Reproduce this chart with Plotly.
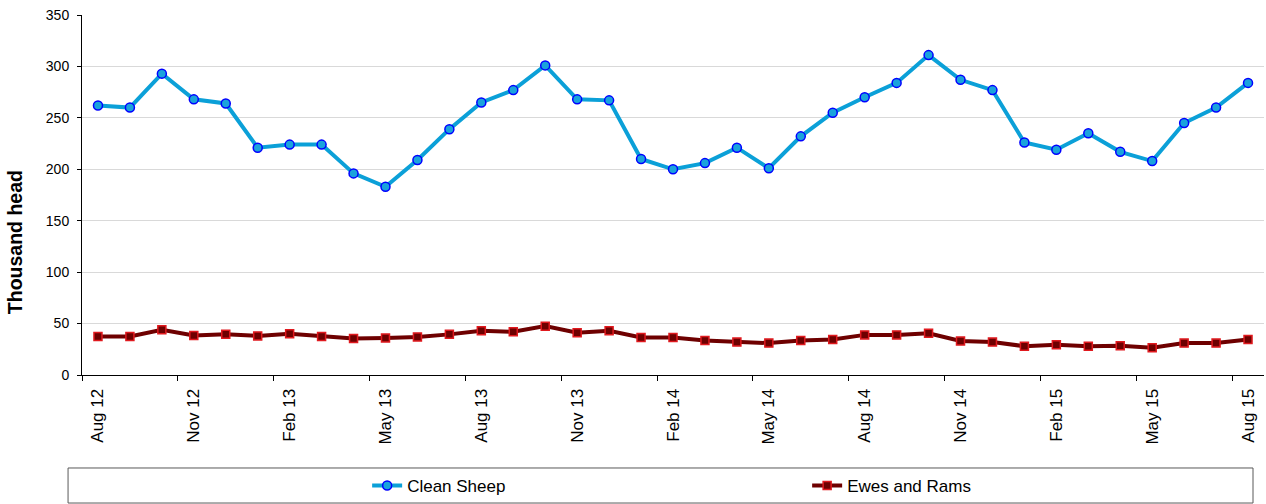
import plotly.graph_objects as go

months = ["Aug", "Sep", "Oct", "Nov", "Dec", "Jan", "Feb", "Mar", "Apr", "May", "Jun", "Jul"]

# monthly categories Aug 12 .. Aug 15
periods = []
for i in range(37):
    m = months[i % 12]
    y = 12 + (i + 7) // 12
    periods.append(f"{m} {y}")

clean_sheep = [262, 260, 293, 268, 264, 221, 224, 224, 196, 183, 209, 239,
               265, 277, 301, 268, 267, 210, 200, 206, 221, 201, 232, 255,
               270, 284, 311, 287, 277, 226, 219, 235, 217, 208, 245, 260,
               284]
ewes_rams = [37.5, 37.5, 44, 38.5, 39.5, 38, 40, 37.5, 35.5, 36, 37, 39.5,
             43, 42, 47.5, 41, 43, 36.5, 36.5, 33.5, 32, 31, 33.5, 34.5,
             39, 39, 40.5, 33, 32, 28, 29.5, 28, 28.5, 26.5, 31, 31,
             34.5]

font_family = "Arial, Liberation Sans, sans-serif"

fig = go.Figure()

fig.add_trace(go.Scatter(
    x=periods, y=clean_sheep,
    mode="lines+markers",
    name="Clean Sheep",
    line=dict(color="#0BA0D8", width=4),
    marker=dict(symbol="circle", size=9, color="#1AA3DC",
                line=dict(color="#0000FF", width=1.5)),
))

fig.add_trace(go.Scatter(
    x=periods, y=ewes_rams,
    mode="lines+markers",
    name="Ewes and Rams",
    line=dict(color="#6E0000", width=4),
    marker=dict(symbol="square", size=8, color="#6E0000",
                line=dict(color="#E0191E", width=1.5)),
))

# legend frame
fig.add_shape(
    type="rect", xref="paper", yref="paper",
    x0=-0.0118, x1=0.9907, y0=-0.3556, y1=-0.2583,
    line=dict(color="#595959", width=1), fillcolor="rgba(0,0,0,0)",
)

# y title sits below the middle of the axis in the original, so place it by hand
fig.add_annotation(
    text="<b>Thousand head</b>", textangle=-90,
    xref="paper", yref="paper", x=-0.0567, y=0.369,
    xanchor="center", yanchor="middle", showarrow=False,
    font=dict(size=19.5, color="#000000"),
)

fig.update_xaxes(
    type="category",
    tickmode="linear", tick0=0, dtick=3,
    tickson="boundaries",
    tickangle=-90,
    ticks="outside", ticklen=5, tickcolor="#000000",
    ticklabelstandoff=6,
    showline=True, linecolor="#000000", linewidth=1,
    showgrid=False,
    automargin=False,
    tickfont=dict(size=17, color="#000000"),
    range=[-0.5, 36.5],
)

fig.update_yaxes(
    range=[0, 350], dtick=50,
    ticks="outside", ticklen=4, tickcolor="#000000",
    ticklabelstandoff=5,
    showline=True, linecolor="#000000", linewidth=1,
    showgrid=True, gridcolor="#D9D9D9", gridwidth=1,
    zeroline=False,
    automargin=False,
    tickfont=dict(size=14, color="#000000"),
)

fig.update_layout(
    width=1266, height=504,
    margin=dict(l=82, r=2, t=15, b=129),
    plot_bgcolor="white",
    paper_bgcolor="white",
    font=dict(family=font_family, color="#000000"),
    showlegend=True,
    legend=dict(
        orientation="h",
        xref="container", yref="container",
        x=0.29, xanchor="left",
        y=0.0357, yanchor="middle",
        entrywidth=395, entrywidthmode="pixels",
        font=dict(size=17),
        bgcolor="rgba(0,0,0,0)",
    ),
)

# drop the default page margin so the figure sits at the window origin
fig.write_html(
    "out.html",
    config={"displayModeBar": False},
    post_script="document.body.style.margin='0';document.body.style.overflow='hidden';",
)
